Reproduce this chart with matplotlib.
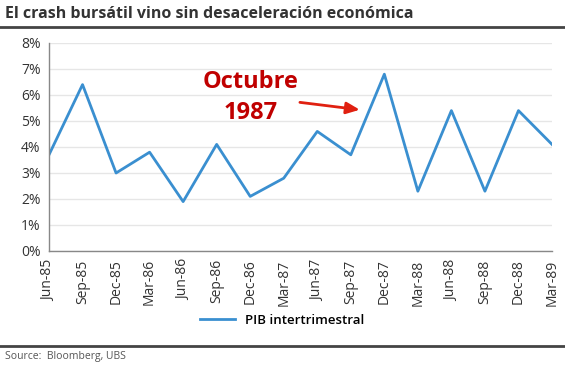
import matplotlib
matplotlib.use("Agg")
import matplotlib.pyplot as plt
from matplotlib.lines import Line2D

plt.rcParams['font.family'] = ['Open Sans', 'DejaVu Sans']

# data (quarter-on-quarter GDP, %)
quarters = ['Jun-85', 'Sep-85', 'Dec-85', 'Mar-86', 'Jun-86', 'Sep-86', 'Dec-86', 'Mar-87',
            'Jun-87', 'Sep-87', 'Dec-87', 'Mar-88', 'Jun-88', 'Sep-88', 'Dec-88', 'Mar-89']
pib = [3.7, 6.4, 3.0, 3.8, 1.9, 4.1, 2.1, 2.8, 4.6, 3.7, 6.8, 2.3, 5.4, 2.3, 5.4, 4.1]
y_ticks = [0, 1, 2, 3, 4, 5, 6, 7, 8]

blue = '#3a8fd0'
red = '#c00000'
dark = '#333333'

W, H = 565, 366
fig = plt.figure(figsize=(W / 100, H / 100), dpi=100)
fig.patch.set_facecolor('white')

ax = fig.add_axes([49 / W, 1 - 251 / H, (552 - 49) / W, (251 - 43) / H])
x = range(len(quarters))
ax.plot(x, pib, color=blue, linewidth=2)
ax.set_xlim(0, len(quarters) - 1)
ax.set_ylim(0, 8)
ax.set_yticks(y_ticks)
ax.set_yticklabels([f'{v}%' for v in y_ticks])
ax.set_xticks(list(x))
ax.set_xticklabels(quarters, rotation=90)
ax.tick_params(length=0, labelsize=10, colors=dark, pad=6)
ax.grid(axis='y', color='#e6e6e6', linewidth=1)
ax.set_axisbelow(True)
for s in ['top', 'right']:
    ax.spines[s].set_visible(False)
for s in ['left', 'bottom']:
    ax.spines[s].set_color('#888888')
    ax.spines[s].set_linewidth(1)

# annotation
ax.annotate('', xy=(9.35, 5.42), xytext=(7.4, 5.73),
            arrowprops=dict(arrowstyle='-|>,head_length=0.8,head_width=0.35',
                            color='#e02010', lw=2))
ax.text(6.0, 5.9, 'Octubre\n1987', color=red, fontsize=17, fontweight='bold',
        ha='center', va='center', linespacing=1.35)

# legend
handle = Line2D([], [], color=blue, linewidth=2)
fig.legend([handle], ['PIB intertrimestral'], loc='center', bbox_to_anchor=(0.5, 1 - 320 / H),
           frameon=False, handlelength=2.6, prop={'weight': 'semibold', 'size': 9.5})

# title and source
fig.text(5 / W, 1 - 14 / H, 'El crash bursátil vino sin desaceleración económica',
         fontsize=11.5, fontweight='bold', color=dark, va='center', ha='left')
fig.add_artist(Line2D([0, 1], [1 - 27 / H, 1 - 27 / H], color='#444444', linewidth=2))
fig.add_artist(Line2D([0, 1], [1 - 346 / H, 1 - 346 / H], color='#444444', linewidth=2))
fig.text(5 / W, 1 - 357 / H, 'Source:  Bloomberg, UBS', fontsize=7.5, color='#555555',
         va='center', ha='left')

fig.savefig('out.png', dpi=100)
